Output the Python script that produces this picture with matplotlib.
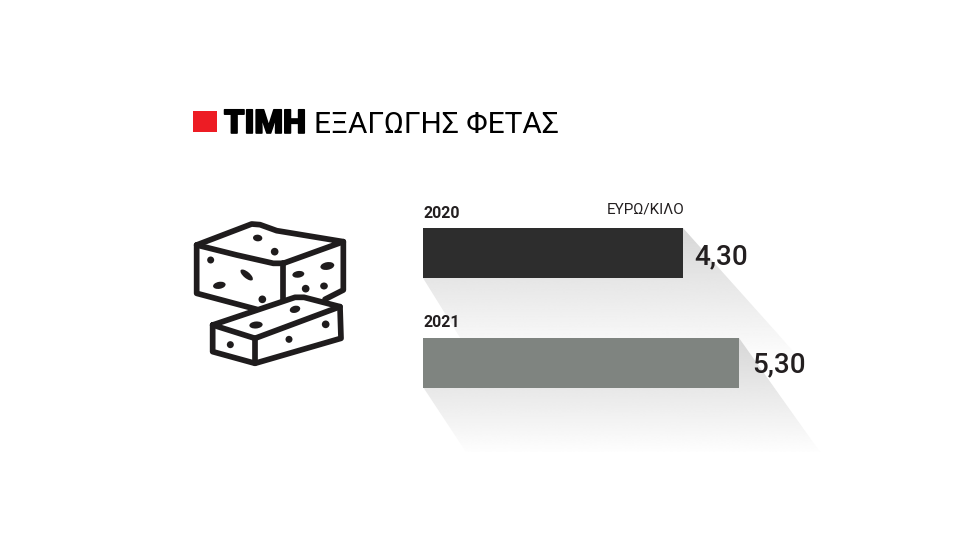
import numpy as np
import matplotlib
matplotlib.use('Agg')
import matplotlib.pyplot as plt
import matplotlib.patheffects as pe
from matplotlib.patches import Polygon, Ellipse, Rectangle

# values
years = ['2020', '2021']
bar_lengths = [4.30, 5.226]   # as drawn in the picture, the 2021 bar is a bit short of 5,30
value_labels = ['4,30', '5,30']
bar_colors = ['#2d2d2d', '#7f8480']

W, H = 960, 560
fig = plt.figure(figsize=(W / 100, H / 100), dpi=100, facecolor='white')

# background axes in pixel coords, for title, icon, shadows
bg = fig.add_axes([0, 0, 1, 1])
bg.set_xlim(0, W)
bg.set_ylim(H, 0)
bg.axis('off')

# bars axes
x0, px_unit = 423, 60.47
y_top, y_bot = 228, 388
ax = fig.add_axes([x0 / W, 1 - y_bot / H, 6 * px_unit / W, (y_bot - y_top) / H])
ax.patch.set_alpha(0)
ax.set_xlim(0, 6)
ax.set_ylim(1 + 25 / 110, -25 / 110)
ax.axis('off')
ax.barh([0, 1], bar_lengths, height=50 / 110, color=bar_colors, left=0)


def shadow(points, y_start, y_end, start_grey=0.85):
    # grey down to y_start, then a fade to white at y_end, clipped to the polygon
    xs = [p[0] for p in points]
    ys = [p[1] for p in points]
    rows = np.linspace(min(ys), max(ys), 256)
    g = np.interp(rows, [y_start, y_end], [start_grey, 1]).reshape(-1, 1)
    im = bg.imshow(g, cmap='gray', vmin=0, vmax=1, aspect='auto',
                   extent=(min(xs), max(xs), max(ys), min(ys)), zorder=1)
    poly = Polygon(points, closed=True, transform=bg.transData, fc='none', ec='none')
    bg.add_patch(poly)
    im.set_clip_path(poly)


end1 = x0 + bar_lengths[0] * px_unit
end2 = x0 + bar_lengths[1] * px_unit
shadow([(end1, 228), (end1 + 94, 333), (end1 + 122, 365), (477, 365), (x0, 278)], 235, 365, 0.85)
shadow([(end2, 338), (end2 + 81, 452), (466, 452), (x0, 387)], 345, 456, 0.85)
bg.set_xlim(0, W)
bg.set_ylim(H, 0)

# title
bg.add_patch(Rectangle((193, 111), 24, 21, fc='#ed1c24', ec='none'))
bg.text(224, 133, 'ΤΙΜΗ', family='Roboto', fontweight='black', fontsize=23.5, color='black', va='baseline',
        path_effects=[pe.withStroke(linewidth=1.2, foreground='black')])
bg.text(314, 133, 'ΕΞΑΓΩΓΗΣ ΦΕΤΑΣ', family='Roboto', fontweight='normal', fontsize=21.5, color='black', va='baseline')

# labels
bg.text(424, 218, years[0], family='Roboto', fontweight='bold', fontsize=11.5, color='#231f20', va='baseline')
bg.text(424, 327, years[1], family='Roboto', fontweight='bold', fontsize=11.5, color='#231f20', va='baseline')
bg.text(684, 214, 'ΕΥΡΩ/ΚΙΛΟ', family='Roboto', fontweight='normal', fontsize=11, color='#231f20', va='baseline', ha='right')
bg.text(694, 264, value_labels[0], family='Roboto', fontweight='medium', fontsize=20, color='#231f20', va='baseline')
bg.text(752, 372, value_labels[1], family='Roboto', fontweight='medium', fontsize=20, color='#231f20', va='baseline')

# cheese icon, traced in zoom coordinates (3x, offset 180,210)
def z(pts):
    return [(180 + a / 3, 210 + b / 3) for a, b in pts]


def stroke(pts):
    xy = np.array(z(pts))
    bg.plot(xy[:, 0], xy[:, 1], color='#1f1c1d', lw=4.1, solid_capstyle='round',
            solid_joinstyle='round', zorder=5)


stroke([(50, 105), (50, 250), (230, 298)])
stroke([(50, 105), (215, 42), (240, 44), (290, 62), (490, 95), (310, 160)])
stroke([(50, 105), (170, 135), (280, 160), (310, 160)])
stroke([(310, 160), (310, 270)])
stroke([(490, 95), (490, 240), (435, 268)])
stroke([(98, 345), (345, 262), (372, 262), (480, 290), (483, 385), (225, 460), (98, 425), (98, 345)])
stroke([(98, 345), (225, 385), (480, 290)])
stroke([(225, 385), (225, 460)])

dots = [(233, 84, 28, 20, 5), (284, 125, 23, 23, 0), (92, 150, 21, 21, 0),
        (200, 195, 46, 19, 40), (118, 226, 38, 21, -10), (247, 268, 23, 23, 0),
        (355, 193, 36, 20, -8), (442, 168, 42, 23, -10), (377, 236, 23, 23, 0),
        (432, 228, 23, 21, 0), (345, 298, 32, 21, -15), (228, 345, 40, 21, -5),
        (437, 343, 23, 23, 0), (327, 388, 21, 21, 0), (151, 404, 21, 21, 0)]
for a, b, w, h, r in dots:
    bg.add_patch(Ellipse((180 + a / 3, 210 + b / 3), w / 3, h / 3, angle=r,
                         fc='#1f1c1d', ec='none', zorder=5))

fig.savefig('out.png', dpi=100, facecolor='white')
